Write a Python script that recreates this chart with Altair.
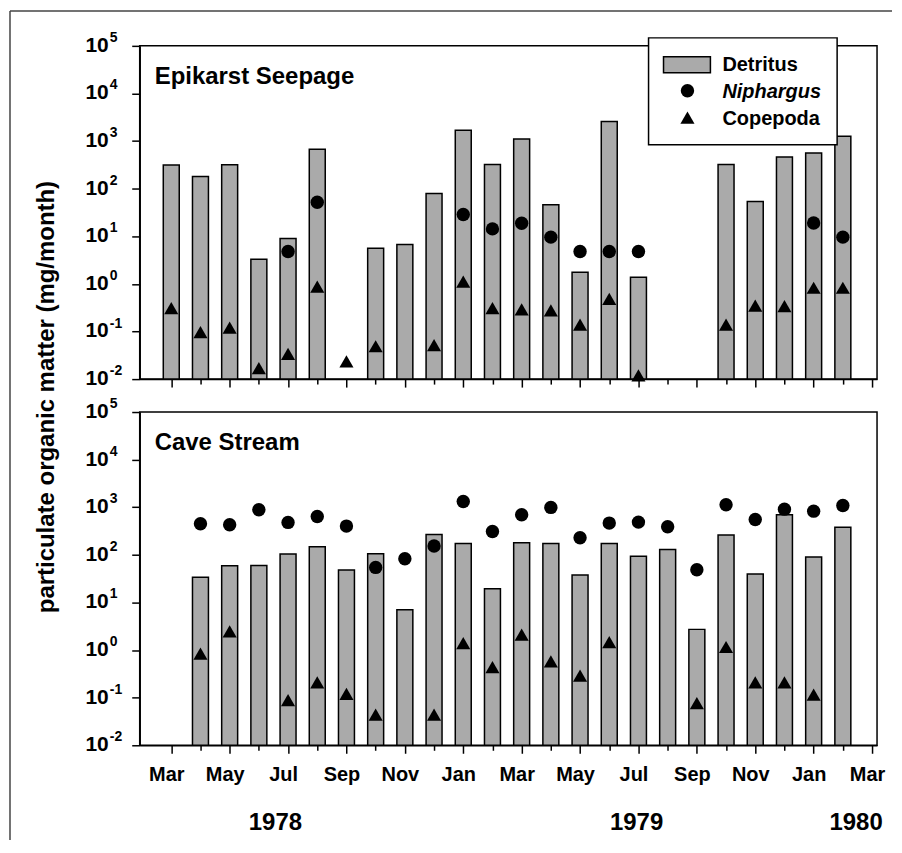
import altair as alt
import pandas as pd

FONT = "Liberation Sans"

# ---------------- data ----------------
months = list(range(24))  # 0 = Mar 1978 ... 23 = Feb 1980
month_names = ["Mar", "Apr", "May", "Jun", "Jul", "Aug", "Sep", "Oct", "Nov", "Dec", "Jan", "Feb"]
year_labels = ["1978", "1979", "1980"]
panel_titles = ["Epikarst Seepage", "Cave Stream"]
legend_labels = ["Detritus", "Niphargus", "Copepoda"]
y_title = "particulate organic matter (mg/month)"
tick_exponents = [-2, -1, 0, 1, 2, 3, 4, 5]

top_detritus = [315, 180, 320, 3.3, 9.0, 673, None, 5.6, 6.7, 79, 1685, 321,
                1107, 46, 1.76, 2566, 1.38, None, None, 321, 54, 464, 563, 1262]
top_niphargus = [None, None, None, None, 4.8, 52, None, None, None, None, 28.6, 14.3,
                 18.8, 9.6, 4.8, 4.8, 4.8, None, None, None, None, None, 19, 9.6]
top_copepoda = [0.31, 0.097, 0.12, 0.017, 0.034, 0.88, 0.0235, 0.049, None, 0.052, 1.12, 0.31,
                0.29, 0.277, 0.14, 0.485, 0.012, None, None, 0.14, 0.35, 0.34, 0.83, 0.83]

bot_detritus = [None, 34, 59, 60, 104, 148, 48, 105, 7.05, 268, 174, 19.4,
                180, 174, 37.6, 174, 94, 130, 2.72, 260, 39.4, 695, 90, 382]
bot_niphargus = [None, 451, 430, 885, 480, 641, 402, 54.5, 83, 153, 1324, 310,
                 695, 991, 229, 465, 487, 389, 48.7, 1128, 554, 912, 828, 1091]
bot_copepoda = [None, 0.84, 2.47, None, 0.089, 0.21, 0.12, 0.044, None, 0.044, 1.4, 0.44,
                2.1, 0.58, 0.29, 1.47, None, None, 0.077, 1.16, 0.21, 0.21, 0.116, None]


def series_df(vals):
    return pd.DataFrame([{"month": m, "value": v} for m, v in zip(months, vals) if v is not None])


ticks_df = pd.DataFrame({
    "value": [10.0 ** e for e in tick_exponents],
    "base": ["10"] * len(tick_exponents),
    "exp": [str(e) for e in tick_exponents],
})

W, H = 739, 334
BAR_FILL = "#aaaaaa"

names_js = "[" + ",".join("'%s'" % n for n in month_names) + "]"
label_expr = "datum.value % 2 === 0 ? " + names_js + "[datum.value % 12] : ''"
tick_size = {"condition": {"test": "datum.value % 2 === 0", "value": 8}, "value": 5}


def x_enc(show_labels):
    if show_labels:
        ax = alt.Axis(values=list(range(25)), title=None, labelExpr=label_expr,
                      tickSize=tick_size, labelFont=FONT, labelFontSize=20,
                      labelFontWeight="bold", labelColor="black", labelPadding=11,
                      labelOffset=-5, labelFlush=False, labelOverlap=False)
    else:
        ax = alt.Axis(values=list(range(25)), title=None, labels=False, tickSize=tick_size)
    return alt.X("month:Q", scale=alt.Scale(domain=[-0.91, 24], nice=False, zero=False), axis=ax)


y_enc = alt.Y("value:Q",
              scale=alt.Scale(type="log", domain=[0.01, 1e5], nice=False),
              axis=alt.Axis(values=[10.0 ** e for e in tick_exponents], labels=False,
                            tickSize=8, title=None, grid=False))


def panel(det, nip, cop, title, show_labels):
    xe = x_enc(show_labels)
    bars = alt.Chart(series_df(det)).mark_bar(size=16, fill=BAR_FILL, stroke="black", strokeWidth=1.5).encode(
        x=xe, y=y_enc, y2=alt.datum(0.01))
    circles = alt.Chart(series_df(nip)).mark_point(shape="circle", filled=True, size=180, color="black", opacity=1).encode(
        x=xe, y=y_enc)
    tris = alt.Chart(series_df(cop)).mark_point(shape="triangle-up", filled=True, size=200, color="black", opacity=1).encode(
        x=xe, y=y_enc)
    ttl = alt.Chart(pd.DataFrame({"t": [title]})).mark_text(
        align="left", baseline="alphabetic", font=FONT, fontSize=24, fontWeight="bold", color="black").encode(
        x=alt.value(15), y=alt.value(38), text="t:N")
    base_lbl = alt.Chart(ticks_df).mark_text(
        align="right", baseline="middle", font=FONT, fontSize=21, fontWeight="bold", color="black").encode(
        x=alt.value(-31), y=y_enc, text="base:N")
    exp_lbl = alt.Chart(ticks_df).mark_text(
        align="left", baseline="middle", font=FONT, fontSize=14, fontWeight="bold", color="black", dy=-8).encode(
        x=alt.value(-30), y=y_enc, text="exp:N")
    return [bars, circles, tris, ttl, base_lbl, exp_lbl]


one = pd.DataFrame({"a": [0]})

# legend (top panel)
leg_box = alt.Chart(one).mark_rect(fill="white", stroke="black", strokeWidth=1.5).encode(
    x=alt.value(510), x2=alt.value(699), y=alt.value(-8), y2=alt.value(99))
leg_sw = alt.Chart(one).mark_rect(fill=BAR_FILL, stroke="black", strokeWidth=1.5).encode(
    x=alt.value(525), x2=alt.value(572), y=alt.value(11), y2=alt.value(27))
leg_c = alt.Chart(one).mark_point(shape="circle", filled=True, size=180, color="black", opacity=1).encode(
    x=alt.value(549), y=alt.value(45))
leg_t = alt.Chart(one).mark_point(shape="triangle-up", filled=True, size=200, color="black", opacity=1).encode(
    x=alt.value(549), y=alt.value(72))
leg_txt = []
for i, (lab, yy) in enumerate(zip(legend_labels, [19, 46, 73])):
    leg_txt.append(alt.Chart(pd.DataFrame({"t": [lab]})).mark_text(
        align="left", baseline="middle", font=FONT, fontSize=20, fontWeight="bold", color="black",
        fontStyle="italic" if i == 1 else "normal").encode(x=alt.value(584), y=alt.value(yy), text="t:N"))

ytitle = alt.Chart(pd.DataFrame({"t": [y_title]})).mark_text(
    angle=270, align="center", baseline="middle", font=FONT, fontSize=24, fontWeight="bold", color="black").encode(
    x=alt.value(-93), y=alt.value(352), text="t:N")

frame_top = alt.Chart(one).mark_rule(color="#444444", strokeWidth=1.5).encode(
    x=alt.value(-130), x2=alt.value(754), y=alt.value(-35))
frame_left = alt.Chart(one).mark_rule(color="#444444", strokeWidth=1.5).encode(
    x=alt.value(-130), y=alt.value(-35), y2=alt.value(796))

top = alt.layer(*panel(top_detritus, top_niphargus, top_copepoda, panel_titles[0], False),
                leg_box, leg_sw, leg_c, leg_t, *leg_txt, ytitle, frame_top, frame_left
                ).properties(width=W, height=H)

year_layers = []
for lab, xx in zip(year_labels, [136, 498, 718]):
    year_layers.append(alt.Chart(pd.DataFrame({"t": [lab]})).mark_text(
        align="center", baseline="middle", font=FONT, fontSize=24, fontWeight="bold", color="black").encode(
        x=alt.value(xx), y=alt.value(412), text="t:N"))

bottom = alt.layer(*panel(bot_detritus, bot_niphargus, bot_copepoda, panel_titles[1], True),
                   *year_layers).properties(width=W, height=H)

chart = alt.vconcat(top, bottom, spacing=33, bounds="flush").properties(
    padding={"left": 0, "top": 0, "right": 0, "bottom": 0}
).configure(
    padding={"left": 0, "top": 0, "right": 0, "bottom": 0}
).configure_view(
    stroke="black", strokeWidth=1.5
).configure_axis(
    domainColor="black", tickColor="black", domainWidth=1.5, tickWidth=1.5, grid=False
)

chart.save("out.html", embed_options={"renderer": "svg", "actions": False})
